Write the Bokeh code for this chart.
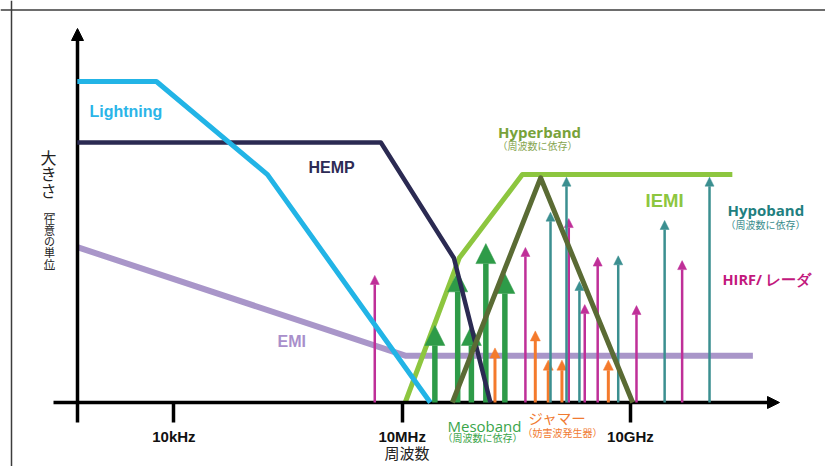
from bokeh.plotting import figure
from bokeh.models import (Range1d, LinearAxis, FixedTicker, Arrow, NormalHead,
                          ColumnDataSource, Label, Span)
from bokeh.embed import file_html
from bokeh.resources import INLINE

# ---------------- data (x: log10 frequency [Hz], y: magnitude, arbitrary units) -------------
tick_pos = [4, 7, 10]
tick_labels = ["10kHz", "10MHz", "10GHz"]

lightning_x = [2.73, 3.77, 5.23, 7.37]
lightning_y = [100, 100, 71, 0]

hemp_x = [2.73, 6.72, 7.68, 8.16]
hemp_y = [81, 81, 45, 0]

emi_x = [2.73, 7.04, 11.61]
emi_y = [48.4, 14.6, 14.6]

iemi_x = [7.04, 7.75, 8.58, 11.34]
iemi_y = [0, 45, 71, 71]

hyper_x = [7.66, 8.82, 10.03]
hyper_y = [0, 70, 0]

meso_x = [7.43, 7.73, 7.91, 8.10, 8.35]
meso_y = [24.0, 40.7, 24.0, 49.5, 40.2]

jammer_x = [8.22, 8.75, 8.92, 9.10, 9.71]
jammer_y = [17.0, 22.3, 13.2, 13.2, 13.2]

hirf_x = [6.64, 8.62, 9.19, 9.40, 9.57, 10.08, 10.68]
hirf_y = [39.6, 48.3, 57.3, 30.5, 45.3, 30.2, 44.2]

hypo_x = [8.95, 9.16, 9.33, 9.84, 10.45, 11.04]
hypo_y = [59.3, 70.2, 37.7, 45.7, 56.7, 70.2]


# ---------------- layout helpers (picture pixel -> data) ----------------
def X(px):
    return (px + 130.9) / 76.08


def Y(py):
    return (402 - py) / 3.21


p = figure(width=825, height=466,
           x_range=Range1d(X(0), X(825)), y_range=Range1d(Y(466), Y(0)),
           x_axis_location=None, y_axis_location=None,
           toolbar_location=None, output_backend="svg",
           min_border=0, outline_line_color=None,
           background_fill_color="white", border_fill_color="white")
p.grid.visible = False

# border of the original picture
p.add_layout(Span(location=Y(9.5), dimension="width", line_color="#3c3c3c", line_width=1.5))
p.add_layout(Span(location=X(11), dimension="height", line_color="#3c3c3c", line_width=1.5))

# axes
xaxis = LinearAxis(fixed_location=0, ticker=FixedTicker(ticks=tick_pos),
                   major_label_overrides={t: l for t, l in zip(tick_pos, tick_labels)},
                   bounds=(X(53), X(770)), axis_line_width=3.5, axis_line_color="black",
                   major_tick_in=0, major_tick_out=20, major_tick_line_width=3.5,
                   major_tick_line_color="black", minor_tick_line_color=None,
                   major_label_text_font="Liberation Sans", major_label_text_font_style="bold",
                   major_label_text_font_size="15px", major_label_standoff=5,
                   major_label_text_color="#111111")
p.add_layout(xaxis, "below")

yaxis = LinearAxis(fixed_location=X(77), ticker=FixedTicker(ticks=[]),
                   bounds=(Y(422), Y(36)), axis_line_width=3.5, axis_line_color="black",
                   major_tick_line_color=None, minor_tick_line_color=None,
                   major_label_text_font_size="0px")
p.add_layout(yaxis, "left")

p.add_layout(Arrow(end=NormalHead(size=12, fill_color="black", line_color="black", line_width=1),
                   x_start=X(762), y_start=0, x_end=X(779), y_end=0, line_alpha=0))
p.add_layout(Arrow(end=NormalHead(size=12, fill_color="black", line_color="black", line_width=1),
                   x_start=X(77), y_start=Y(45), x_end=X(77), y_end=Y(28), line_alpha=0))

# lines under the arrows
p.line(emi_x, emi_y, line_color="#a996c9", line_width=6, line_join="round")
p.line(iemi_x, iemi_y, line_color="#8dc63f", line_width=5, line_join="round")


def arrows(xs, ys, color, width, head):
    src = ColumnDataSource(dict(x0=xs, y0=[0] * len(xs), x1=xs, y1=ys))
    p.add_layout(Arrow(source=src, x_start="x0", y_start="y0", x_end="x1", y_end="y1",
                       line_color=color, line_width=width,
                       end=NormalHead(size=head, fill_color=color, line_color=color, line_width=0.5)))


arrows(jammer_x, jammer_y, "#f47a2c", 3, 10)
arrows(hirf_x, hirf_y, "#bf2f98", 2.5, 9)
arrows(hypo_x, hypo_y, "#3b8f90", 2.5, 9)
arrows(meso_x, meso_y, "#2e9b48", 5.5, 20)

# lines over the arrows
p.line(hemp_x, hemp_y, line_color="#2b2a52", line_width=4.5, line_join="round", level="overlay")
p.line(lightning_x, lightning_y, line_color="#22b4e6", line_width=5, line_join="round", level="overlay")
p.line(hyper_x, hyper_y, line_color="#5a6b34", line_width=5, line_join="round", level="overlay")


def lab(text, px, py, color, size, font="Liberation Sans", style="bold",
        align="left", baseline="alphabetic"):
    p.add_layout(Label(x=X(px), y=Y(py), text=text, text_color=color,
                       text_font_size=f"{size}px", text_font=font, text_font_style=style,
                       text_align=align, text_baseline=baseline, level="overlay"))


JP = "Noto Sans CJK JP"
lab("Lightning", 89, 110.5, "#2bb5e8", 16)
lab("HEMP", 308, 167.3, "#2d2b55", 16)
lab("EMI", 277, 341, "#a98fcb", 16)
lab("IEMI", 645, 200, "#8dc63f", 18.5)
lab("Hyperband", 539, 131, "#78a23a", 15, font="Open Sans", align="center")
lab("（周波数に依存）", 537, 145, "#86a550", 10, font=JP, style="normal", align="center")
lab("Hypoband", 727, 209, "#1f8080", 15, font="Open Sans")
lab("（周波数に依存）", 765, 224, "#3a8c8c", 10, font=JP, style="normal", align="center")
lab("HIRF/ レーダ", 722, 279.3, "#c2187d", 14.5, font="Open Sans")
lab("Mesoband", 447, 425, "#3aa54a", 15, font="Open Sans", style="normal")
lab("（周波数に依存）", 482, 437.3, "#3aa54a", 10, font=JP, style="normal", align="center")
lab("ジャマー", 528, 417, "#f07b32", 14.5, font=JP, style="normal")
lab("（妨害波発生器）", 562, 431.7, "#f07b32", 10, font=JP, style="normal", align="center")
lab("周波数", 406.5, 441, "#222222", 15, font=JP, style="normal", align="center", baseline="top")

# vertical (tategaki) y-axis title, one character per label
for ch, cy in zip("大きさ", [156, 172.5, 189.5]):
    lab(ch, 48, cy, "#222222", 16, font=JP, style="normal", align="center", baseline="middle")
for ch, cy in zip("﹇任意の単位﹈", [209, 218, 229, 240, 251.5, 263, 271]):
    lab(ch, 49, cy, "#222222", 11, font=JP, style="normal", align="center", baseline="middle")

open("out.html", "w").write(file_html(p, INLINE))
